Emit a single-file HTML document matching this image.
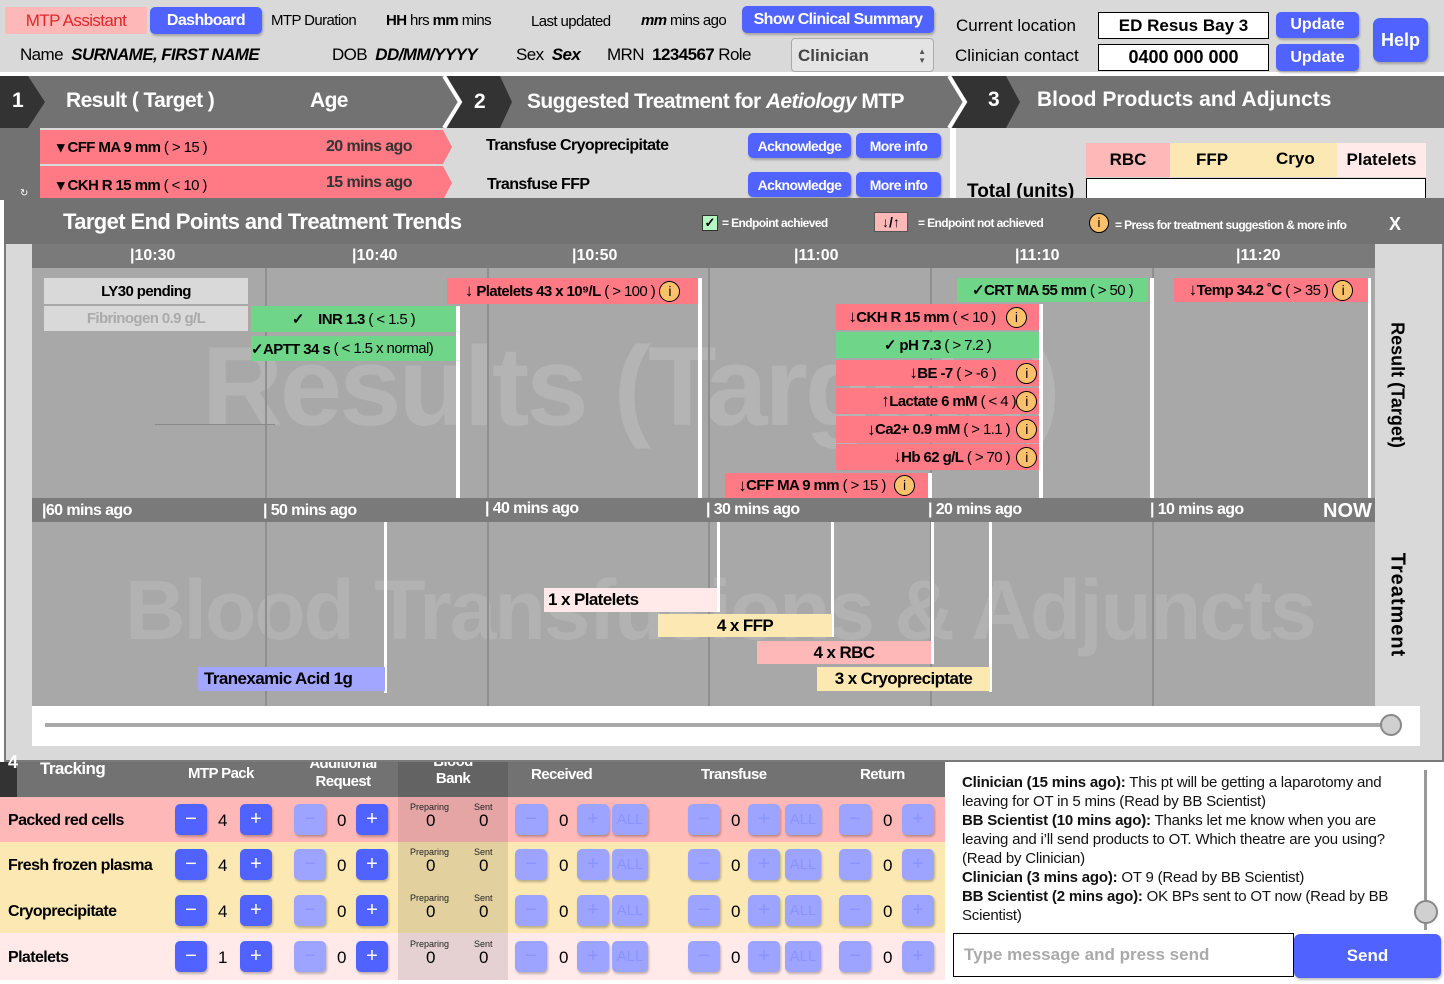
<!DOCTYPE html>
<html><head><meta charset="utf-8"><style>
*{margin:0;padding:0;box-sizing:border-box}
body{width:1444px;height:984px;position:relative;overflow:hidden;background:#fff;font-family:"Liberation Sans",sans-serif;color:#000}
.a{position:absolute;white-space:nowrap}
.c{display:flex;align-items:center;justify-content:center}
.btn{position:absolute;background:#5062ff;color:#fff;font-weight:bold;border-radius:5px;display:flex;align-items:center;justify-content:center;box-shadow:1px 2px 2px rgba(0,0,0,.25)}
.lb{background:#9ca4ff;color:#8a93ff}
.n{letter-spacing:-0.6px}
.red{background:#ff7a84}.grn{background:#6fd589}
.rb{position:absolute;font-size:15px;font-weight:bold;letter-spacing:-0.6px;display:flex;align-items:center;justify-content:center}
.rb i{font-style:normal;font-weight:normal}
.inf{display:inline-block;width:21px;height:21px;border-radius:50%;background:#fdc16c;border:1.5px solid #000;font-weight:normal;font-size:14px;line-height:18px;text-align:center;margin-left:4px}
.wl{position:absolute;width:4px;background:#fff}
.gl{position:absolute;width:2px;background:#8f8f8f}
.sm{font-size:9px;color:#222;position:absolute}
</style></head><body>
<div class="a" style="left:0;top:0;width:1444px;height:72px;background:#d9d9d9"></div>
<div class="a c n" style="left:5px;top:7px;width:142px;height:27px;background:#ffb8b8;color:#e0262b;font-size:17px">MTP Assistant</div>
<div class="btn n" style="left:150px;top:7px;width:112px;height:27px;font-size:16px">Dashboard</div>
<div class="a n" style="left:271px;top:12px;font-size:15px">MTP Duration</div>
<div class="a n" style="left:386px;top:12px;font-size:15px"><b>HH</b> hrs <b>mm</b> mins</div>
<div class="a n" style="left:531px;top:13px;font-size:15px">Last updated</div>
<div class="a n" style="left:641px;top:12px;font-size:15px"><b><i>mm</i></b> mins ago</div>
<div class="btn n" style="left:742px;top:6px;width:192px;height:27px;font-size:16px">Show Clinical Summary</div>
<div class="a n" style="left:20px;top:45px;font-size:17px">Name &nbsp;<b><i>SURNAME, FIRST NAME</i></b></div>
<div class="a n" style="left:332px;top:45px;font-size:17px">DOB &nbsp;<b><i>DD/MM/YYYY</i></b></div>
<div class="a n" style="left:516px;top:45px;font-size:17px">Sex &nbsp;<b><i>Sex</i></b></div>
<div class="a n" style="left:607px;top:45px;font-size:17px">MRN &nbsp;<b>1234567</b> Role</div>
<div class="a" style="left:791px;top:38px;width:143px;height:34px;background:#e4e4e4;border:1px solid #aaa;border-radius:4px;font-size:17px;font-weight:bold;color:#444;padding:7px 0 0 6px">Clinician<span style="position:absolute;right:7px;top:8px;font-size:8px;line-height:9px;color:#555">▲<br>▼</span></div>
<div class="a" style="left:956px;top:16px;font-size:17px">Current location</div>
<div class="a" style="left:955px;top:46px;font-size:17px">Clinician contact</div>
<div class="a c" style="left:1098px;top:12px;width:171px;height:27px;background:#fff;border:1px solid #000;font-weight:bold;font-size:17px">ED Resus Bay 3</div>
<div class="a c" style="left:1098px;top:44px;width:171px;height:27px;background:#fff;border:1px solid #000;font-weight:bold;font-size:18px">0400 000 000</div>
<div class="btn" style="left:1276px;top:12px;width:83px;height:26px;font-size:16px">Update</div>
<div class="btn" style="left:1276px;top:44px;width:83px;height:27px;font-size:16px">Update</div>
<div class="btn" style="left:1373px;top:18px;width:55px;height:44px;font-size:18px;border-radius:7px">Help</div>
<div class="a" style="left:0;top:76px;width:1444px;height:52px;background:#737272"></div>
<svg class="a" style="left:0;top:76px" width="1444" height="52">
<polygon points="0,0 28,0 45,26 28,52 0,52" fill="#333"/>
<polygon points="447,0 500,0 512,26 500,52 447,52 460,26" fill="#333"/>
<polyline points="444,0 460,26 444,52" fill="none" stroke="#fff" stroke-width="4"/>
<polygon points="952,0 1006,0 1020,26 1006,52 952,52 966,26" fill="#333"/>
<polyline points="949,0 965,26 949,52" fill="none" stroke="#fff" stroke-width="4"/>
</svg>
<div class="a" style="left:12px;top:89px;color:#fff;font-size:21px;font-weight:bold">1</div>
<div class="a n" style="left:66px;top:89px;color:#fff;font-size:21px;font-weight:bold">Result ( Target )</div>
<div class="a n" style="left:310px;top:89px;color:#fff;font-size:21px;font-weight:bold">Age</div>
<div class="a" style="left:474px;top:90px;color:#fff;font-size:21px;font-weight:bold">2</div>
<div class="a n" style="left:527px;top:90px;color:#fff;font-size:21px;font-weight:bold">Suggested Treatment for <i>Aetiology</i> MTP</div>
<div class="a" style="left:988px;top:88px;color:#fff;font-size:21px;font-weight:bold">3</div>
<div class="a" style="left:1037px;top:88px;color:#fff;font-size:21px;font-weight:bold">Blood Products and Adjuncts</div>
<div class="a" style="left:0;top:128px;width:40px;height:72px;background:#737272"></div>
<div class="a" style="left:20px;top:188px;color:#fff;font-size:10px">↻</div>
<div class="a" style="left:40px;top:128px;width:910px;height:72px;background:#d9d9d9"></div>
<svg class="a" style="left:40px;top:128px" width="420" height="72"><polygon points="0,2 403,2 412,19 403,36 0,36" fill="#ff7a84"/><polygon points="0,38 403,38 412,55 403,72 0,72" fill="#ff7a84"/></svg>
<div class="a n" style="left:57px;top:138px;font-size:15px"><b>▾ CFF MA 9 mm</b> ( &gt; 15 )</div>
<div class="a n" style="left:326px;top:138px;font-size:16px;font-weight:bold;color:#333">20 mins ago</div>
<div class="a n" style="left:57px;top:176px;font-size:15px"><b>▾ CKH R 15 mm</b> ( &lt; 10 )</div>
<div class="a n" style="left:326px;top:174px;font-size:16px;font-weight:bold;color:#333">15 mins ago</div>
<div class="a n" style="left:486px;top:137px;font-size:16px;font-weight:bold">Transfuse Cryoprecipitate</div>
<div class="a n" style="left:487px;top:176px;font-size:16px;font-weight:bold">Transfuse FFP</div>
<div class="btn n" style="left:748px;top:133px;width:103px;height:25px;font-size:14px">Acknowledge</div>
<div class="btn n" style="left:856px;top:133px;width:85px;height:25px;font-size:14px">More info</div>
<div class="btn n" style="left:748px;top:172px;width:103px;height:25px;font-size:14px">Acknowledge</div>
<div class="btn n" style="left:856px;top:172px;width:85px;height:25px;font-size:14px">More info</div>
<div class="a" style="left:952px;top:128px;width:4px;height:72px;background:#fff"></div>
<div class="a" style="left:956px;top:128px;width:488px;height:72px;background:#d9d9d9"></div>
<div class="a c" style="left:1086px;top:143px;width:84px;height:34px;background:#ffb8b8;font-weight:bold;font-size:17px">RBC</div>
<div class="a" style="left:1170px;top:143px;width:167px;height:34px;background:#fce8b2"></div>
<div class="a" style="left:1196px;top:150px;font-weight:bold;font-size:17px">FFP</div>
<div class="a" style="left:1276px;top:149px;font-weight:bold;font-size:17px">Cryo</div>
<div class="a c" style="left:1337px;top:143px;width:89px;height:34px;background:#ffe9e9;font-weight:bold;font-size:17px">Platelets</div>
<div class="a" style="left:967px;top:181px;font-weight:bold;font-size:19px">Total (units)</div>
<div class="a" style="left:1086px;top:178px;width:340px;height:30px;background:#fff;border:1px solid #000"></div>
<div class="a" style="left:4px;top:198px;width:1440px;height:564px;background:#d9d9d9;border:2px solid #7a7a7a"></div>
<div class="a" style="left:4px;top:198px;width:1440px;height:46px;background:#737272"></div>
<div class="a n" style="left:63px;top:209px;color:#fff;font-size:22px;font-weight:bold">Target End Points and Treatment Trends</div>
<div class="a c" style="left:702px;top:215px;width:16px;height:16px;background:#b6f5c4;border:1px solid #333;font-size:13px;font-weight:bold">✓</div>
<div class="a n" style="left:722px;top:216px;color:#fff;font-size:12px;font-weight:bold">= Endpoint achieved</div>
<div class="a c" style="left:874px;top:212px;width:34px;height:20px;background:#ffb8b8;border:1px solid #555;font-size:14px;font-weight:bold">↓/↑</div>
<div class="a n" style="left:918px;top:216px;color:#fff;font-size:12px;font-weight:bold">= Endpoint not achieved</div>
<div class="a" style="left:1089px;top:213px"><span class="inf" style="margin:0;width:20px;height:20px;font-size:13px;line-height:17px">i</span></div>
<div class="a n" style="left:1115px;top:218px;color:#fff;font-size:12px;font-weight:bold">= Press for treatment suggestion &amp; more info</div>
<div class="a" style="left:1389px;top:214px;color:#fff;font-size:18px;font-weight:bold">X</div>
<div class="a" style="left:32px;top:244px;width:1343px;height:24px;background:#7a7a7a"></div>
<div class="a" style="left:32px;top:268px;width:1343px;height:230px;background:#a8a8a8"></div>
<div class="a" style="left:32px;top:498px;width:1343px;height:24px;background:#7a7a7a"></div>
<div class="a" style="left:32px;top:522px;width:1343px;height:184px;background:#a8a8a8"></div>
<div class="a" style="left:32px;top:706px;width:1388px;height:40px;background:#fff"></div>
<div class="a" style="left:45px;top:723px;width:1350px;height:4px;background:#a8a8a8"></div>
<div class="a" style="left:1380px;top:714px;width:22px;height:22px;border-radius:50%;background:#d0d0d0;border:2px solid #888"></div>
<div class="a" style="left:202px;top:322px;font-size:112px;font-weight:bold;color:#b4b4b4;letter-spacing:-3px">Results (Targets)</div>
<div class="a" style="left:125px;top:562px;font-size:84px;font-weight:bold;color:#b2b2b2;letter-spacing:-2px">Blood Transfusions &amp; Adjuncts</div>
<div class="gl" style="left:265px;top:268px;height:230px"></div><div class="gl" style="left:487px;top:268px;height:230px"></div><div class="gl" style="left:708px;top:268px;height:230px"></div><div class="gl" style="left:930px;top:268px;height:230px"></div><div class="gl" style="left:1152px;top:268px;height:230px"></div>
<div class="gl" style="left:265px;top:522px;height:184px"></div><div class="gl" style="left:487px;top:522px;height:184px"></div><div class="gl" style="left:708px;top:522px;height:184px"></div><div class="gl" style="left:930px;top:522px;height:184px"></div><div class="gl" style="left:1152px;top:522px;height:184px"></div>
<div class="a" style="left:155px;top:424px;width:120px;height:1px;background:#888"></div>
<div class="a" style="left:130px;top:247px;color:#fff;font-size:16px;font-weight:bold">|10:30</div>
<div class="a" style="left:352px;top:247px;color:#fff;font-size:16px;font-weight:bold">|10:40</div>
<div class="a" style="left:572px;top:247px;color:#fff;font-size:16px;font-weight:bold">|10:50</div>
<div class="a" style="left:794px;top:247px;color:#fff;font-size:16px;font-weight:bold">|11:00</div>
<div class="a" style="left:1015px;top:247px;color:#fff;font-size:16px;font-weight:bold">|11:10</div>
<div class="a" style="left:1236px;top:247px;color:#fff;font-size:16px;font-weight:bold">|11:20</div>
<div class="a n" style="left:42px;top:502px;color:#fff;font-size:16px;font-weight:bold">|60 mins ago</div>
<div class="a n" style="left:263px;top:502px;color:#fff;font-size:16px;font-weight:bold">|&nbsp;50 mins ago</div>
<div class="a n" style="left:485px;top:500px;color:#fff;font-size:16px;font-weight:bold">|&nbsp;40 mins ago</div>
<div class="a n" style="left:706px;top:501px;color:#fff;font-size:16px;font-weight:bold">|&nbsp;30 mins ago</div>
<div class="a n" style="left:928px;top:501px;color:#fff;font-size:16px;font-weight:bold">|&nbsp;20 mins ago</div>
<div class="a n" style="left:1150px;top:501px;color:#fff;font-size:16px;font-weight:bold">|&nbsp;10 mins ago</div>
<div class="a" style="left:1323px;top:500px;color:#fff;font-size:20px;font-weight:bold">NOW</div>
<div class="wl" style="left:456px;top:306px;height:192px"></div>
<div class="wl" style="left:698px;top:278px;height:220px"></div>
<div class="wl" style="left:1039px;top:304px;height:194px"></div>
<div class="wl" style="left:1150px;top:278px;height:220px"></div>
<div class="wl" style="left:1368px;top:278px;height:220px;width:3px"></div>
<div class="wl" style="left:928px;top:473px;height:25px"></div>
<div class="rb" style="left:44px;top:278px;width:204px;height:26px;background:#d9d9d9">LY30 pending</div>
<div class="rb" style="left:44px;top:306px;width:204px;height:25px;background:#d9d9d9;color:#aaa">Fibrinogen 0.9 g/L</div>
<div class="rb grn" style="left:251px;top:306px;width:205px;height:26px">✓&nbsp;&nbsp;&nbsp; INR 1.3&nbsp;<i>( &lt; 1.5 )</i></div>
<div class="rb grn" style="left:251px;top:336px;width:205px;height:25px;justify-content:flex-start">✓APTT 34 s&nbsp;<i>( &lt; 1.5 x normal)</i></div>
<div class="rb red" style="left:447px;top:278px;width:251px;height:26px"><b style="font-size:17px">↓</b>&nbsp;Platelets 43 x 10⁹/L&nbsp;<i>( &gt; 100 )</i><span class="inf">i</span></div>
<div class="rb grn" style="left:957px;top:278px;width:191px;height:24px">✓CRT MA 55 mm&nbsp;<i>( &gt; 50 )</i></div>
<div class="rb red" style="left:1174px;top:278px;width:194px;height:24px"><b style="font-size:17px">↓</b>Temp 34.2 ˚C&nbsp;<i>( &gt; 35 )</i><span class="inf">i</span></div>
<div class="rb red" style="left:836px;top:304px;width:203px;height:26px"><b style="font-size:17px">↓</b>CKH R 15 mm&nbsp;<i>( &lt; 10 )</i><span class="inf" style="margin-left:10px">i</span></div>
<div class="rb grn" style="left:836px;top:332px;width:203px;height:26px">✓ pH 7.3&nbsp;<i>( &gt; 7.2 )</i></div>
<div class="rb red" style="left:836px;top:360px;width:203px;height:26px;justify-content:flex-end;padding-right:2px"><b style="font-size:17px">↓</b>BE -7&nbsp;<i>( &gt; -6 )</i><span class="inf" style="margin-left:20px">i</span></div>
<div class="rb red" style="left:836px;top:388px;width:203px;height:26px;justify-content:flex-end;padding-right:2px"><b style="font-size:17px">↑</b>Lactate 6 mM&nbsp;<i>( &lt; 4 )</i><span class="inf" style="margin-left:0">i</span></div>
<div class="rb red" style="left:836px;top:416px;width:203px;height:27px;justify-content:flex-end;padding-right:2px"><b style="font-size:17px">↓</b>Ca2+ 0.9 mM&nbsp;<i>( &gt; 1.1 )</i><span class="inf" style="margin-left:6px">i</span></div>
<div class="rb red" style="left:836px;top:444px;width:203px;height:26px;justify-content:flex-end;padding-right:2px"><b style="font-size:17px">↓</b>Hb 62 g/L&nbsp;<i>( &gt; 70 )</i><span class="inf" style="margin-left:6px">i</span></div>
<div class="rb red" style="left:725px;top:473px;width:203px;height:25px"><b style="font-size:17px">↓</b>CFF MA 9 mm&nbsp;<i>( &gt; 15 )</i><span class="inf" style="margin-left:8px">i</span></div>
<div class="wl" style="left:384px;top:522px;height:171px;width:3px"></div>
<div class="wl" style="left:717px;top:522px;height:90px;width:3px"></div>
<div class="wl" style="left:831px;top:522px;height:115px;width:3px"></div>
<div class="wl" style="left:931px;top:522px;height:142px;width:3px"></div>
<div class="wl" style="left:989px;top:522px;height:170px;width:3px"></div>
<div class="rb" style="left:544px;top:588px;width:173px;height:24px;background:#ffe9e9;font-size:17px;justify-content:flex-start;padding-left:4px">1 x Platelets</div>
<div class="rb" style="left:658px;top:614px;width:174px;height:23px;background:#fce8b2;font-size:17px">4 x FFP</div>
<div class="rb" style="left:757px;top:641px;width:174px;height:23px;background:#ffb8b8;font-size:17px">4 x RBC</div>
<div class="rb" style="left:817px;top:667px;width:173px;height:24px;background:#fce8b2;font-size:17px">3 x Cryopreciptate</div>
<div class="rb" style="left:198px;top:667px;width:187px;height:24px;background:#a3a6ff;font-size:17px;justify-content:flex-start;padding-left:6px">Tranexamic Acid 1g</div>
<div class="a" style="left:1397px;top:385px;transform:translate(-50%,-50%) rotate(90deg);font-size:18px;font-weight:bold">Result (Target)</div>
<div class="a" style="left:1397px;top:605px;transform:translate(-50%,-50%) rotate(90deg);font-size:20px;font-weight:bold;letter-spacing:1px">Treatment</div>
<div class="a" style="left:0;top:762px;width:945px;height:35px;background:#737272"></div>
<div class="a" style="left:0;top:762px;width:17px;height:35px;background:#333"></div>
<div class="a" style="left:8px;top:752px;color:#fff;font-size:18px;font-weight:bold">4</div>
<div class="a" style="left:398px;top:762px;width:110px;height:218px;background:rgba(0,0,0,.13)"></div>
<div class="a n" style="left:40px;top:759px;color:#fff;font-size:17px;font-weight:bold">Tracking</div>
<div class="a n" style="left:188px;top:765px;color:#fff;font-size:15px;font-weight:bold">MTP Pack</div>
<div class="a n" style="left:300px;top:762px;color:#fff;font-size:15px;font-weight:bold;text-align:center;line-height:17px;width:86px;height:35px;overflow:hidden"><div style="margin-top:-7px">Additional</div><div style="margin-top:1px">Request</div></div>
<div class="a n" style="left:398px;top:762px;color:#fff;font-size:15px;font-weight:bold;text-align:center;width:110px;height:34px;overflow:hidden;line-height:16px"><div style="margin-top:-8px">Blood</div><div style="margin-top:1px">Bank</div></div>
<div class="a n" style="left:531px;top:766px;color:#fff;font-size:15px;font-weight:bold">Received</div>
<div class="a n" style="left:701px;top:766px;color:#fff;font-size:15px;font-weight:bold">Transfuse</div>
<div class="a n" style="left:860px;top:766px;color:#fff;font-size:15px;font-weight:bold">Return</div>
<div id="rows"></div>
<div class="a" style="left:945px;top:762px;width:499px;height:222px;background:#fff"></div>
<div class="a" style="left:962px;top:773px;width:450px;white-space:normal;font-size:15px;line-height:19px;color:#111;letter-spacing:-0.2px"><b>Clinician (15 mins ago):</b> This pt will be getting a laparotomy and leaving for OT in 5 mins (Read by BB Scientist)<br><b>BB Scientist (10 mins ago):</b> Thanks let me know when you are leaving and i’ll send products to OT. Which theatre are you using? (Read by Clinician)<br><b>Clinician (3 mins ago):</b> OT 9 (Read by BB Scientist)<br><b>BB Scientist (2 mins ago):</b> OK BPs sent to OT now (Read by BB Scientist)</div>
<div class="a" style="left:1424px;top:770px;width:3px;height:160px;background:#999"></div>
<div class="a" style="left:1414px;top:900px;width:24px;height:24px;border-radius:50%;background:#d0d0d0;border:2px solid #888"></div>
<div class="a" style="left:953px;top:933px;width:341px;height:44px;border:1.5px solid #000;background:#fff;font-size:17px;font-weight:bold;color:#aaa;padding:11px 0 0 10px">Type message and press send</div>
<div class="btn" style="left:1294px;top:934px;width:147px;height:44px;font-size:17px;border-radius:6px">Send</div>
<script>
var rows=[["Packed red cells","#ffb8b8",797,45,"4"],["Fresh frozen plasma","#fce8b2",842,46,"4"],["Cryoprecipitate","#fce8b2",888,45,"4"],["Platelets","#ffe9e9",933,47,"1"]];
var h="";
rows.forEach(function(r){
 var y=r[2],c=y+r[3]/2,by=c-16;
 h+='<div class="a" style="left:0;top:'+y+'px;width:945px;height:'+r[3]+'px;background:'+r[1]+'"></div>';
 h+='<div class="a" style="left:398px;top:'+y+'px;width:110px;height:'+r[3]+'px;background:rgba(0,0,0,.1)"></div>';
 h+='<div class="a n" style="left:8px;top:'+(c-8)+'px;font-size:16px;font-weight:bold">'+r[0]+'</div>';
 function b(x,t,l,w){h+='<div class="btn'+(l?' lb':'')+'" style="left:'+x+'px;top:'+by+'px;width:'+(w||32)+'px;height:31px;font-size:'+(t=="ALL"?15:20)+'px;font-weight:normal">'+t+'</div>';}
 function n(x,t){h+='<div class="a" style="left:'+x+'px;top:'+(c-9)+'px;font-size:17px">'+t+'</div>';}
 b(175,"−");n(218,r[4]);b(240,"+");
 b(294,"−",1);n(337,"0");b(356,"+");
 h+='<div class="sm" style="left:410px;top:'+(c-18)+'px">Preparing</div><div class="sm" style="left:474px;top:'+(c-18)+'px">Sent</div>';
 n(426,"0");n(479,"0");
 b(515,"−",1);n(559,"0");b(577,"+",1);b(612,"ALL",1,36);
 b(688,"−",1);n(731,"0");b(748,"+",1);b(785,"ALL",1,36);
 b(839,"−",1);n(883,"0");b(902,"+",1);
});
document.getElementById("rows").outerHTML=h;
</script>
</body></html>
